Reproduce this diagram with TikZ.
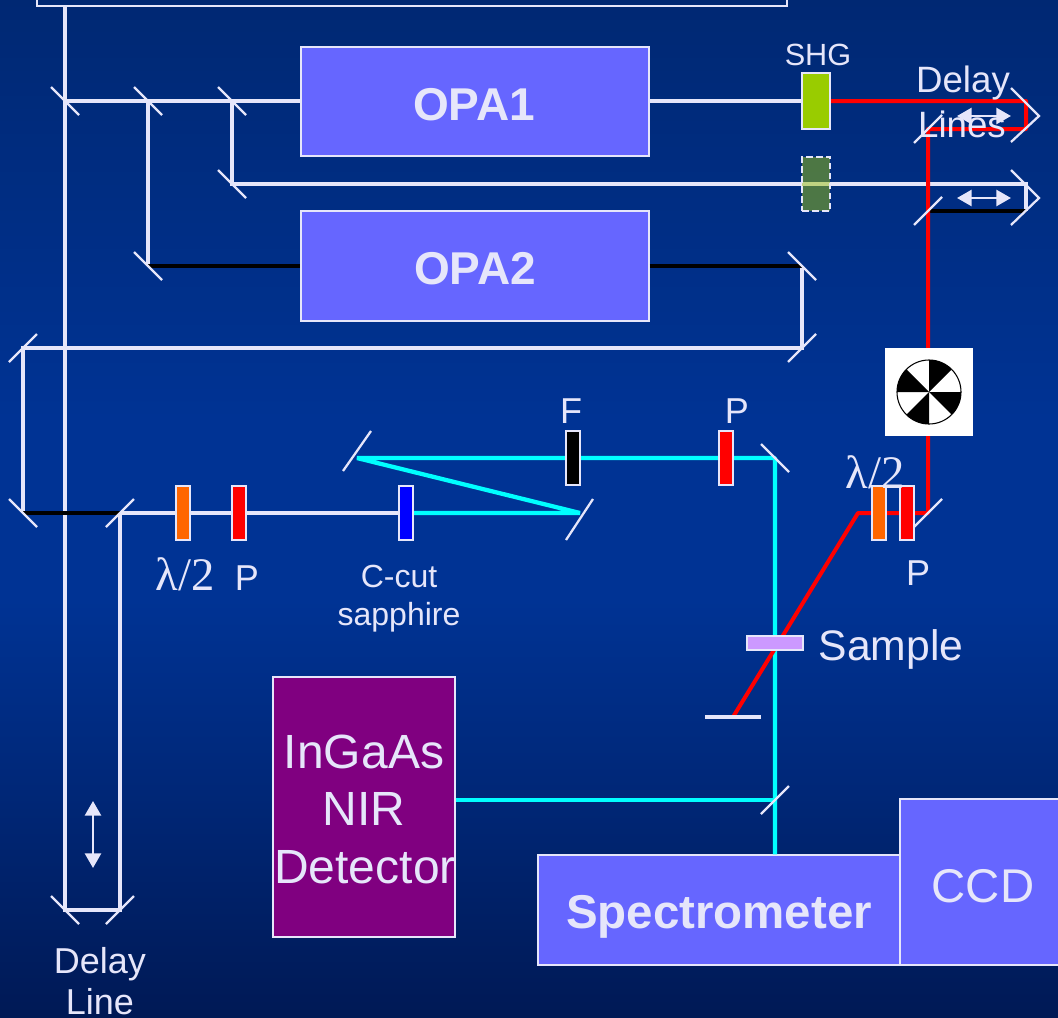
\documentclass[tikz,border=0pt]{standalone}
\usepackage{fontspec}
\setmainfont{Liberation Sans}
\newfontfamily\lamfont{Liberation Serif}
\usetikzlibrary{arrows.meta}

\definecolor{beamwhite}{RGB}{230,230,250}
\definecolor{boxblue}{RGB}{102,102,255}
\definecolor{bgtop}{RGB}{0,40,115}
\definecolor{bgmid}{RGB}{0,51,148}
\definecolor{bgbot}{RGB}{0,25,85}
\definecolor{cyanline}{RGB}{0,255,255}
\definecolor{redline}{RGB}{255,0,0}
\definecolor{plateorange}{RGB}{255,102,0}
\definecolor{detpurple}{RGB}{128,0,128}
\definecolor{shggreen}{RGB}{153,204,0}
\definecolor{shgfaded}{RGB}{154,194,10}
\definecolor{samplelilac}{RGB}{204,153,255}
\definecolor{plateblue}{RGB}{0,0,255}

\tikzset{
    beam/.style={line width=3pt,draw=beamwhite},
    idler/.style={line width=3pt,draw=black},
    redbeam/.style={line width=3pt,draw=redline},
    cyanbeam/.style={line width=3.2pt,draw=cyanline,line join=bevel},
    mirror/.style={line width=1.7pt,draw=beamwhite},
    optic/.style={draw=beamwhite,line width=1.5pt,minimum width=10.5pt,minimum height=41pt,inner sep=0pt},
    bigbox/.style={draw=beamwhite,line width=1.3pt,fill=boxblue,inner sep=0pt},
    lab/.style={text=beamwhite,anchor=base,inner sep=0pt,align=center},
    slide/.style={line width=2pt,draw=beamwhite,{Triangle[length=11pt,width=12pt]}-{Triangle[length=11pt,width=12pt]}}
}

% back-slanted and forward-slanted mirrors
\newcommand{\mirA}[1]{\draw[mirror] (#1) ++(-14,-14) -- ++(28,28);}
\newcommand{\mirB}[1]{\draw[mirror] (#1) ++(-14,14) -- ++(28,-28);}

\begin{document}
\begin{tikzpicture}[x=0.75pt,y=-0.75pt]

% Background
\useasboundingbox (0,0) rectangle (1058,1018);
\shade[top color=bgtop,bottom color=bgmid] (0,0) rectangle (1058,420);
\fill[bgmid] (0,420) rectangle (1058,600);
\shade[top color=bgmid,bottom color=bgbot] (0,600) rectangle (1058,1018);

% Mirror positions
\coordinate (m0) at (65,6);
\coordinate (m1) at (65,101);
\coordinate (m2) at (148,101);
\coordinate (m3) at (232,101);
\coordinate (m4) at (232,184);
\coordinate (m5) at (148,266);
\coordinate (m6) at (802,266);
\coordinate (m7) at (802,348);
\coordinate (m8) at (23,348);
\coordinate (m9) at (23,513);
\coordinate (m10) at (120,513);
\coordinate (d1) at (65,910);
\coordinate (d2) at (120,910);
\coordinate (m11) at (580,513);
\coordinate (m12) at (357,458);
\coordinate (m13) at (775,458);
\coordinate (m14) at (775,800);
\coordinate (m15) at (928,513);
\coordinate (m16) at (928,129);
\coordinate (m17) at (928,211);
\coordinate (r1) at (1026,101);
\coordinate (r2) at (1026,129);
\coordinate (r3) at (1026,184);
\coordinate (r4) at (1026,211);
\coordinate (s1) at (858,513);
\coordinate (s2) at (733,717);

% Amplifier box, only its lower edge is in view
\node[draw=beamwhite,line width=1.5pt,minimum width=563pt,minimum height=20pt,inner sep=0pt] (amp) at (412,-7) {};

% Boxes
\node[bigbox,minimum width=261pt,minimum height=81.5pt] (opa1) at (475,101.5) {};
\node[bigbox,minimum width=261pt,minimum height=82pt] (opa2) at (475,266) {};
\node[bigbox,fill=detpurple,minimum width=136pt,minimum height=195pt] (det) at (364,807) {};
\node[bigbox,minimum width=271pt,minimum height=82pt] (spec) at (719,910) {};
\node[bigbox,minimum width=125pt,minimum height=124pt] (ccd) at (983,882) {};

% White beams
\draw[beam] (m0) -- (d1) -- (d2) -- (m10);
\draw[beam] (m1) -- (opa1.west |- m1);
\draw[beam] (m2) -- (m5);
\draw[beam] (m3) -- (m4) -- (r3) -- (r4);
\draw[beam] (opa1.east |- m1) -- (802,101);
\draw[beam] (m6) -- (m7) -- (m8) -- (m9);
\draw[beam] (m10) -- (405,513);

% Black beams
\draw[idler] (m5) -- (opa2);
\draw[idler] (opa2) -- (m6);
\draw[idler] (m9) -- (m10);
\draw[idler] (m17) -- (r4);

% Cyan beams
\draw[cyanbeam] (405,513) -- (m11) -- (m12) -- (m13) -- (spec.north -| m13);
\draw[cyanbeam] (det.east |- m14) -- (m14);

% Red beams
\draw[redbeam,line join=round] (816,101) -- (r1) -- (r2) -- (m16) -- (m15) -- (s1) -- (s2);
\draw[line width=2.6pt,draw=beamwhite] (705,717) -- (761,717);

% Optics
\node[optic,fill=plateorange] (hw1) at (183,513) {};
\node[optic,fill=redline] (pol1) at (239,513) {};
\node[optic,fill=plateblue] (sapph) at (406,513) {};
\node[optic,fill=black] (filt) at (573,458) {};
\node[optic,fill=redline] (pol2) at (726,458) {};
\node[optic,fill=plateorange] (hw2) at (879,513) {};
\node[optic,fill=redline] (pol3) at (907,513) {};
\node[optic,fill=shggreen,minimum width=21pt,minimum height=42pt] (shg) at (816,101) {};
\node[draw=beamwhite,line width=1.3pt,dash pattern=on 5pt off 2.5pt,fill=shgfaded,fill opacity=0.5,minimum width=21pt,minimum height=41pt,inner sep=0pt] (shg2) at (816,184) {};
\node[draw=beamwhite,line width=1.5pt,fill=samplelilac,minimum width=42pt,minimum height=10pt,inner sep=0pt] (samp) at (774.5,643) {};

% Mirrors
\mirA{m1}
\mirA{m2}
\mirA{m3}
\mirA{m4}
\mirA{m5}
\mirA{m6}
\mirB{m7}
\mirB{m8}
\mirA{m9}
\mirB{m10}
\mirB{d2}
\mirA{d1}
\draw[mirror] (m11) ++(-14,27) -- ++(27,-41);
\draw[mirror] (m12) ++(-14,13) -- ++(28,-40);
\mirA{m13}
\mirB{m14}
\mirB{m15}
\mirB{m16}
\mirB{m17}

% Retro mirrors
\draw[mirror] (1011,88) -- (1039,116) -- (1011,142);
\draw[mirror] (1011,170) -- (1039,198) -- (1011,225);

% Chopper
\node[fill=white,minimum width=66pt,minimum height=66pt,inner sep=0pt] (chop) at (929,392) {};
\foreach \a in {-90,-180,-270,-360}
    \fill[black] (chop.center) -- ++(\a:32) arc[start angle=\a,end angle=\a+45,radius=32] -- cycle;
\draw[line width=0.8pt] (chop.center) circle (32);

% Translation arrows
\draw[slide] (957,116) -- (1011,116);
\draw[slide] (957,198) -- (1011,198);
\draw[slide] (93,801) -- (93,868);

% Labels
\node[lab,font=\fontsize{34.5}{34.5}\selectfont\bfseries] (opa1t) at (474,120) {OPA1};
\node[lab,font=\fontsize{34.5}{34.5}\selectfont\bfseries] (opa2t) at (475,284) {OPA2};
\node[lab,font=\fontsize{35.6}{35.6}\selectfont\bfseries] (spect) at (719,928) {Spectrometer};
\node[lab,font=\fontsize{35.5}{35.5}\selectfont] (ccdt) at (983,902) {CCD};
\node[lab,font=\fontsize{36}{36}\selectfont] (dett1) at (364,768) {InGaAs};
\node[lab,font=\fontsize{36}{36}\selectfont] (dett2) at (364,825) {NIR};
\node[lab,font=\fontsize{36}{36}\selectfont] (dett3) at (365,883) {Detector};
\node[lab,font=\fontsize{32}{32}\selectfont] (sampt) at (891,660) {Sample};
\node[lab,font=\fontsize{23}{23}\selectfont] (shgt) at (818,65) {SHG};
\node[lab,font=\fontsize{27.5}{27.5}\selectfont] (dl1) at (963,92) {Delay};
\node[lab,font=\fontsize{27.5}{27.5}\selectfont] (dl2) at (962,137) {Lines};
\node[lab,font=\fontsize{27}{27}\selectfont] (dl3) at (100,973) {Delay};
\node[lab,font=\fontsize{27}{27}\selectfont] (dl4) at (100,1014) {Line};
\node[lab,font=\fontsize{27}{27}\selectfont] (ft) at (571,423) {F};
\node[lab,font=\fontsize{27}{27}\selectfont] (p1t) at (247,590) {P};
\node[lab,font=\fontsize{27}{27}\selectfont] (p2t) at (737,423) {P};
\node[lab,font=\fontsize{27}{27}\selectfont] (p3t) at (918,585) {P};
\node[lab,font=\fontsize{24}{24}\selectfont] (cc1) at (399,587) {C-cut};
\node[lab,font=\fontsize{24}{24}\selectfont] (cc2) at (399,625) {sapphire};
\node[lab,font=\fontsize{35}{35}\selectfont\lamfont] (hw1t) at (185,590) {λ/2};
\node[lab,font=\fontsize{35}{35}\selectfont\lamfont] (hw2t) at (875,488) {λ/2};

\end{tikzpicture}
\end{document}
